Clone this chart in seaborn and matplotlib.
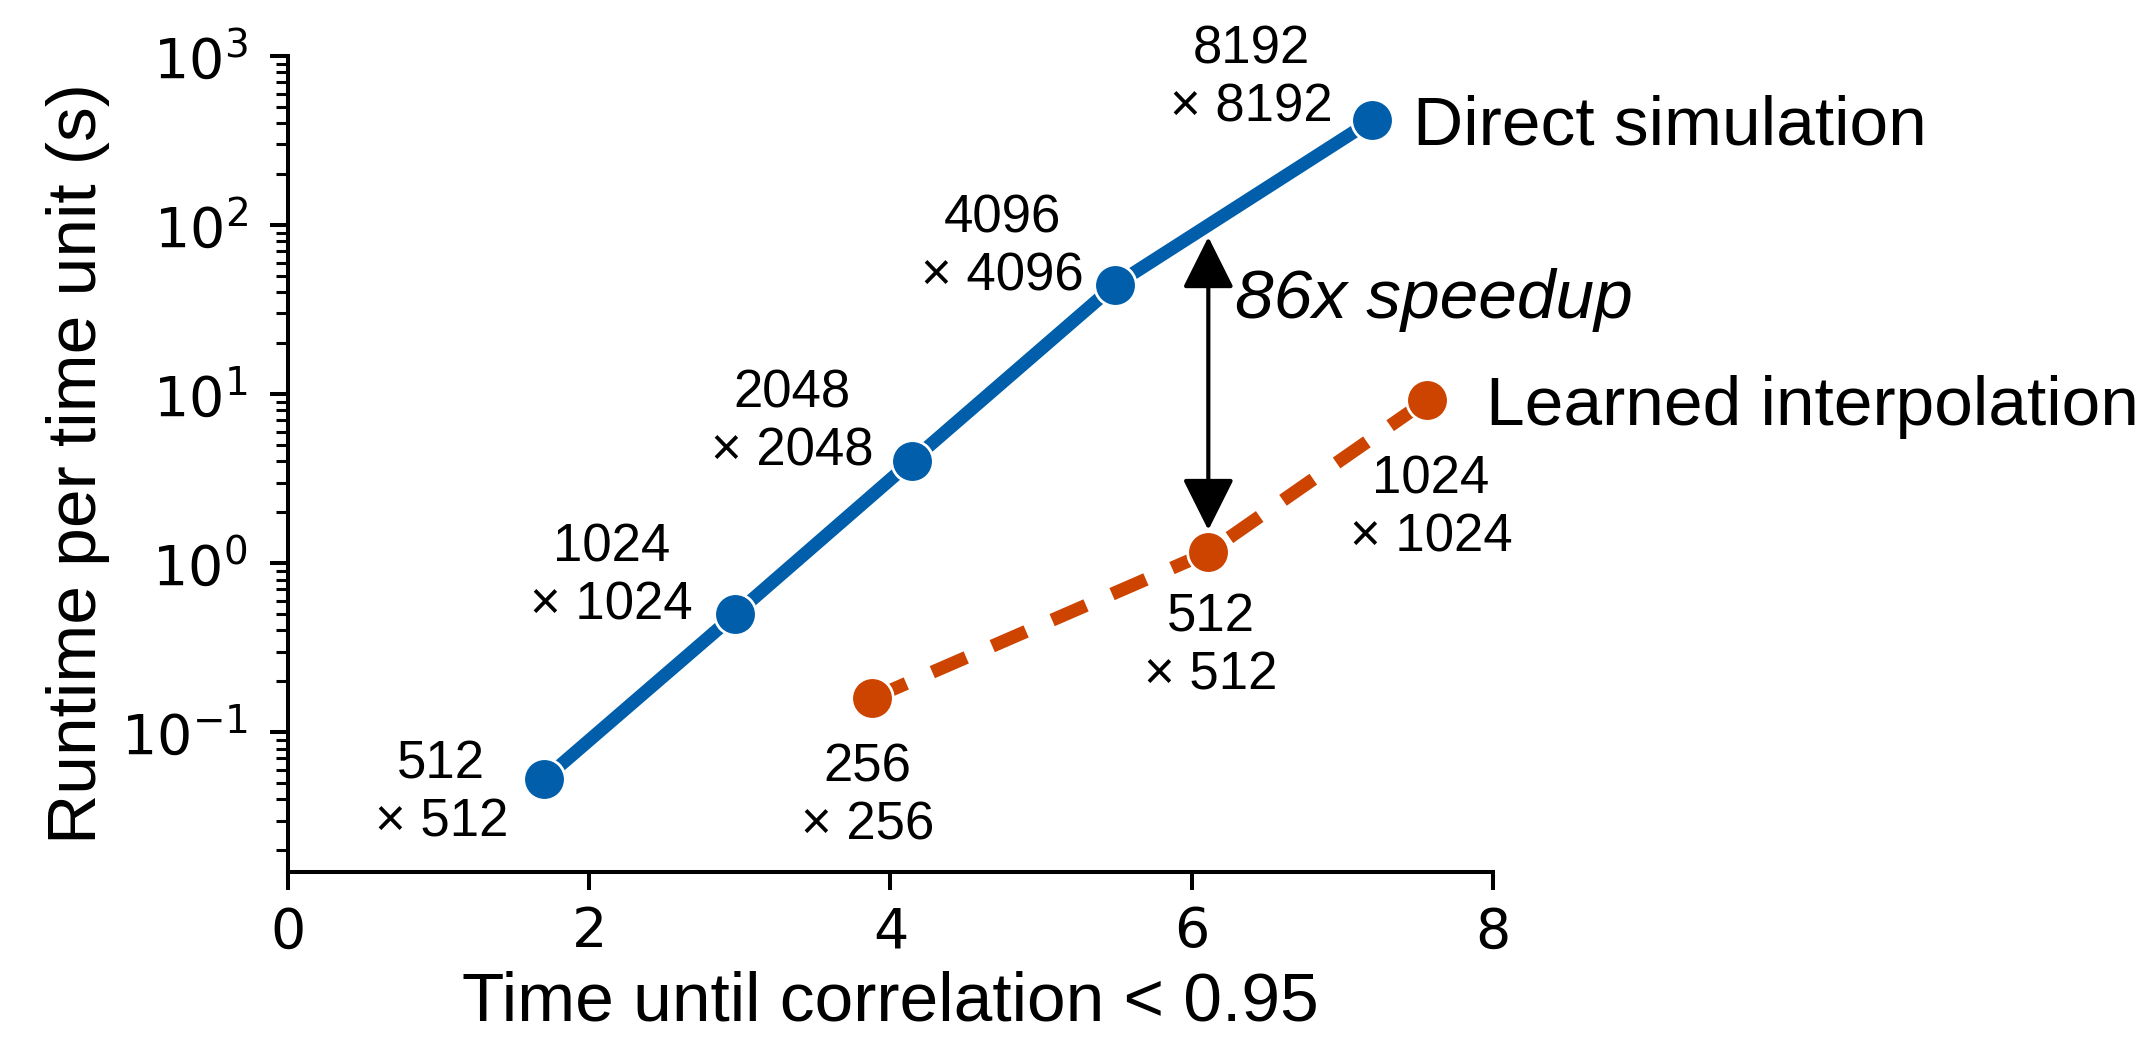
import matplotlib
matplotlib.use("Agg")
import matplotlib.pyplot as plt
import pandas as pd
import seaborn as sns

# ---------------- data ----------------
direct_time = [1.70, 2.97, 4.14, 5.49, 7.20]
direct_runtime = [0.0527, 0.499, 4.02, 44.2, 418.0]
direct_grid = ["512", "1024", "2048", "4096", "8192"]

learned_time = [3.88, 6.11, 7.56]
learned_runtime = [0.159, 1.16, 9.2]
learned_grid = ["256", "512", "1024"]

method_names = ["Direct simulation", "Learned interpolation"]
speedup_label = "86x speedup"
speedup_span = [1.57, 85.0]          # runtime range spanned by the arrow
x_ticks = [0, 2, 4, 6, 8]
x_limits = [0, 8]
y_limits = [0.0149, 1000]
x_label = "Time until correlation < 0.95"
y_label = "Runtime per time unit (s)"

# ---------------- styles ----------------
colors = ["#005EAA", "#CC4400"]
direct_offsets = [(-74, -10), (-89, 27), (-86, 28), (-81, 27), (-87, 30)]
learned_offsets = [(-3.6, -71), (2, -68), (3, -78)]
name_offsets = [(29.5, -5), (42.5, -5)]

sns.set_style("ticks")
plt.rcParams["font.family"] = ["Liberation Sans", "DejaVu Sans"]
plt.rcParams["mathtext.fontset"] = "dejavusans"
for key in ["text.color", "axes.labelcolor", "xtick.color", "ytick.color", "axes.edgecolor"]:
    plt.rcParams[key] = "black"

df = pd.DataFrame({
    "time": direct_time + learned_time,
    "runtime": direct_runtime + learned_runtime,
    "method": [method_names[0]] * len(direct_time) + [method_names[1]] * len(learned_time),
})

fig = plt.figure(figsize=(21.52, 10.37), dpi=100)
ax = fig.add_axes([288 / 2152, 1 - 872 / 1037, (1493 - 288) / 2152, (872 - 56) / 1037])
ax.set_yscale("log")

sns.lineplot(
    data=df, x="time", y="runtime", hue="method", style="method",
    palette=colors, dashes=["", (2.8, 2.15)], markers=["o", "o"],
    markersize=30, markeredgecolor="white", markeredgewidth=2.0,
    linewidth=9.5, legend=False, ax=ax, sort=False,
)

ax.set_xlim(*x_limits)
ax.set_ylim(*y_limits)
ax.set_xticks(x_ticks)
ax.set_xticklabels([str(t) for t in x_ticks], fontfamily="DejaVu Sans")
for lab in ax.get_yticklabels():
    lab.set_fontfamily("DejaVu Sans")

sns.despine(ax=ax)
for s in ["left", "bottom"]:
    ax.spines[s].set_linewidth(2.9)
    ax.spines[s].set_color("black")
ax.tick_params(axis="both", which="major", length=13, width=2.9, labelsize=40,
               color="black", labelcolor="black")
ax.tick_params(axis="y", which="major", pad=16)
ax.tick_params(axis="x", which="major", pad=11)
ax.tick_params(axis="y", which="minor", length=8.5, width=2.2, color="black")
ax.tick_params(axis="x", which="minor", length=0)

ax.set_xlabel(x_label, fontsize=50, labelpad=8, color="black")
ax.set_ylabel(y_label, fontsize=50, labelpad=8, color="black")

# size annotations
for xs, ys, names, offs in [(direct_time, direct_runtime, direct_grid, direct_offsets),
                            (learned_time, learned_runtime, learned_grid, learned_offsets)]:
    for xv, yv, n, off in zip(xs, ys, names, offs):
        ax.annotate(f"{n}\n\u00d7 {n}", xy=(xv, yv), xytext=off, textcoords="offset points",
                    ha="center", va="center", multialignment="center", fontsize=38,
                    linespacing=1.2, color="black")

# method names at the last point of each series
for xs, ys, name, off in [(direct_time, direct_runtime, method_names[0], name_offsets[0]),
                          (learned_time, learned_runtime, method_names[1], name_offsets[1])]:
    ax.annotate(name, xy=(xs[-1], ys[-1]), xytext=off, textcoords="offset points",
                ha="left", va="center", fontsize=50, color="black", annotation_clip=False)

# speedup arrow
arrow_x = learned_time[1]
ax.annotate("", xy=(arrow_x, speedup_span[0]), xytext=(arrow_x, speedup_span[1]),
            arrowprops=dict(arrowstyle="<|-|>,head_length=1.6,head_width=0.8",
                            mutation_scale=20, lw=3.0, color="black",
                            shrinkA=0, shrinkB=0))
ax.annotate(speedup_label, xy=(arrow_x, speedup_span[1]), xytext=(19, -58),
            textcoords="offset points", ha="left", va="baseline",
            fontsize=50, fontstyle="italic", color="black")

fig.savefig("out.png", dpi=100)
